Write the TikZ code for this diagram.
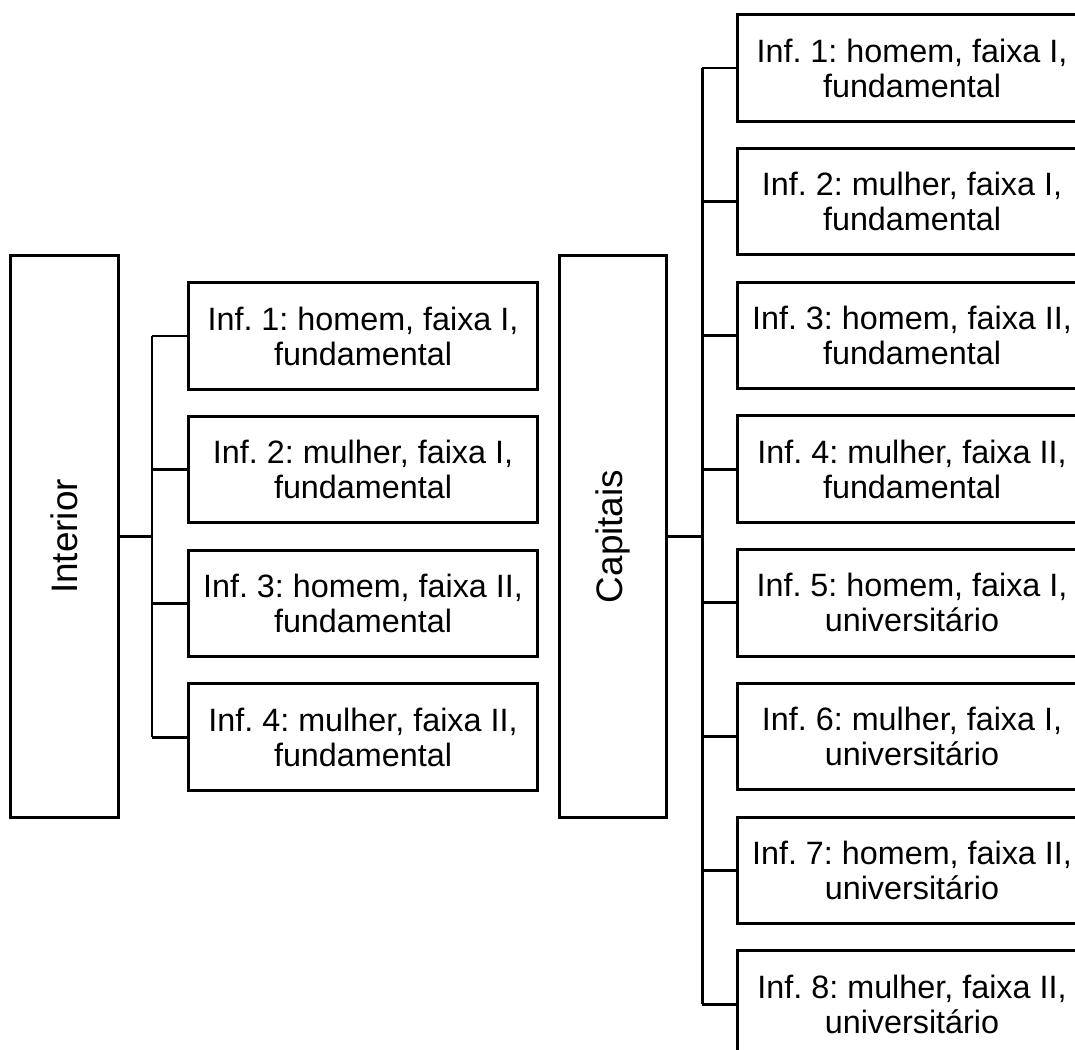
\documentclass[tikz,border=0pt]{standalone}
\usepackage{fontspec}
\setmainfont{Liberation Sans}
\frenchspacing
\usetikzlibrary{positioning}

\begin{document}
\begin{tikzpicture}[
  x=0.02cm, y=-0.02cm,
  inf/.style={draw, line width=1.7pt, minimum width=7cm, minimum height=2.13cm,
              align=center, inner sep=0pt, outer sep=0pt,
              font=\fontsize{18.4pt}{19.9pt}\selectfont},
  grupo/.style={draw, line width=1.7pt, rotate=90, minimum width=11.26cm,
                minimum height=2.15cm, inner sep=0pt, outer sep=0pt,
                font=\fontsize{21pt}{22pt}\selectfont},
  lig/.style={line width=1.7pt}
]
  \useasboundingbox (0,0) rectangle (1075,1050);
  \clip (0,0) rectangle (1075,1050);

  % Interior
  \node[grupo] (int) at (64.5,536.5) {Interior};
  \node[inf] (i1) at (363,336) {Inf. 1: homem, faixa I,\\fundamental};
  \node[inf, below=0.545cm of i1] (i2) {Inf. 2: mulher, faixa I,\\fundamental};
  \node[inf, below=0.545cm of i2] (i3) {Inf. 3: homem, faixa II,\\fundamental};
  \node[inf, below=0.545cm of i3] (i4) {Inf. 4: mulher, faixa II,\\fundamental};

  \coordinate (ji) at (152,536.5);
  \draw[lig] (int.south) -- (ji);
  \draw[lig] (ji |- i1.west) -- (ji |- i4.west);
  \foreach \n in {i1,i2,i3,i4}
    \draw[lig] (ji |- \n.west) -- (\n.west);

  % Capitais
  \node[grupo] (cap) at (613,536.5) {Capitais};
  \node[inf] (c1) at (912,68) {Inf. 1: homem, faixa I,\\fundamental};
  \node[inf, below=0.545cm of c1] (c2) {Inf. 2: mulher, faixa I,\\fundamental};
  \node[inf, below=0.545cm of c2] (c3) {Inf. 3: homem, faixa II,\\fundamental};
  \node[inf, below=0.545cm of c3] (c4) {Inf. 4: mulher, faixa II,\\fundamental};
  \node[inf, below=0.545cm of c4] (c5) {Inf. 5: homem, faixa I,\\universitário};
  \node[inf, below=0.545cm of c5] (c6) {Inf. 6: mulher, faixa I,\\universitário};
  \node[inf, below=0.545cm of c6] (c7) {Inf. 7: homem, faixa II,\\universitário};
  \node[inf, below=0.545cm of c7] (c8) {Inf. 8: mulher, faixa II,\\universitário};

  \coordinate (jc) at (702,536.5);
  \draw[lig] (cap.south) -- (jc);
  \draw[lig] (jc |- c1.west) -- (jc |- c8.west);
  \foreach \n in {c1,c2,c3,c4,c5,c6,c7,c8}
    \draw[lig] (jc |- \n.west) -- (\n.west);
\end{tikzpicture}
\end{document}
